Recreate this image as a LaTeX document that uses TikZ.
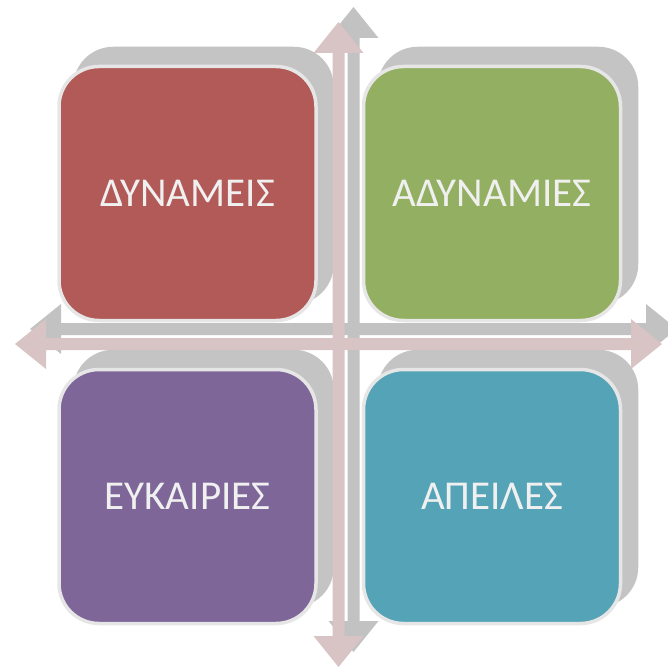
\documentclass[tikz,border=0pt]{standalone}
\usepackage{fontspec}
\setmainfont{Carlito}
\definecolor{strc}{HTML}{B15A57}
\definecolor{weakc}{HTML}{93AF62}
\definecolor{oppc}{HTML}{7F6699}
\definecolor{thrc}{HTML}{55A3B6}
\definecolor{rimc}{HTML}{E6E6E6}
\definecolor{shadec}{HTML}{C4C4C4}
\definecolor{axisc}{HTML}{D8C3C5}
\definecolor{axisshade}{HTML}{C2C2C2}
\definecolor{labelc}{HTML}{F0F0F0}
\pgfdeclarelayer{shadelayer}
\pgfdeclarelayer{axislayer}
\pgfsetlayers{shadelayer,axislayer,main}
\tikzset{
  quad/.style={draw=rimc, line width=3.5pt, rounded corners=40pt,
    minimum width=257pt, minimum height=254pt, inner sep=0pt,
    text=labelc, font=\fontsize{41}{48}\selectfont},
  quadshade/.style={fill=shadec, rounded corners=40pt},
  axisarrow/.style={fill=axisc},
  axisback/.style={fill=axisshade}
}
\begin{document}
\begin{tikzpicture}[x=1pt,y=-1pt]
\useasboundingbox (0,0) rectangle (667,668);
% the four quadrants
\node[quad, fill=strc]  (str) at (187.5,193.5) {ΔΥΝΑΜΕΙΣ};
\node[quad, fill=weakc] (wea) at (492,193.5)   {ΑΔΥΝΑΜΙΕΣ};
\node[quad, fill=oppc]  (opp) at (187.5,496.5) {ΕΥΚΑΙΡΙΕΣ};
\node[quad, fill=thrc]  (thr) at (492,496.5)   {ΑΠΕΙΛΕΣ};
% offset shadows behind the quadrants
\begin{pgfonlayer}{shadelayer}
\foreach \q in {str,wea,opp,thr}{
  \fill[quadshade] ([shift={(16,-18)}]\q.south west) rectangle ([shift={(16,-18)}]\q.north east);
}
\end{pgfonlayer}
% the two double-headed axes, with their grey offset copies
\begin{pgfonlayer}{axislayer}
\begin{scope}[shift={(15,-15)}]
  \fill[axisback] (15,344) -- (46,319) -- (46,338) -- (631,338) -- (631,319) -- (662,344)
    -- (631,369) -- (631,350) -- (46,350) -- (46,369) -- cycle;
  \fill[axisback] (338.5,22) -- (363.5,53) -- (344.5,53) -- (344.5,636) -- (363.5,636)
    -- (338.5,667) -- (313.5,636) -- (332.5,636) -- (332.5,53) -- (313.5,53) -- cycle;
\end{scope}
\fill[axisarrow] (15,344) -- (46,319) -- (46,338) -- (631,338) -- (631,319) -- (662,344)
  -- (631,369) -- (631,350) -- (46,350) -- (46,369) -- cycle;
\fill[axisarrow] (338.5,22) -- (363.5,53) -- (344.5,53) -- (344.5,636) -- (363.5,636)
  -- (338.5,667) -- (313.5,636) -- (332.5,636) -- (332.5,53) -- (313.5,53) -- cycle;
\end{pgfonlayer}
\end{tikzpicture}
\end{document}
